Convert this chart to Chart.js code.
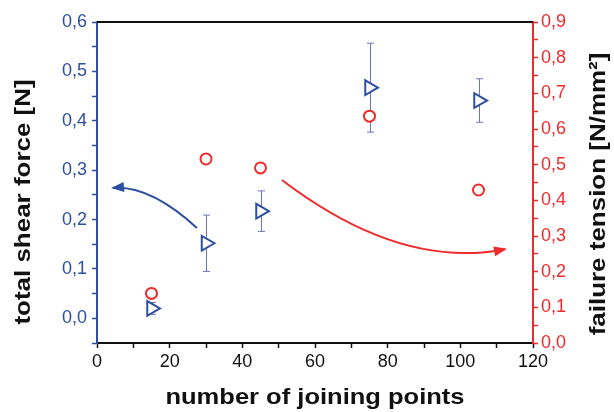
<!DOCTYPE html>
<html>
<head>
<meta charset="utf-8">
<script src="https://cdn.jsdelivr.net/npm/chart.js@4.4.1/dist/chart.umd.min.js"></script>
<style>
  html, body { margin: 0; padding: 0; background: #fff; }
  #wrap { width: 614px; height: 412px; }
</style>
</head>
<body>
<div id="wrap"><canvas id="chart"></canvas></div>
<script>
// values
const joiningPoints = [15, 30, 45, 75, 105];
const shearForce = [0.02, 0.152, 0.217, 0.467, 0.441];
const shearError = [0.012, 0.057, 0.041, 0.09, 0.044];
const failureTension = [0.139, 0.516, 0.491, 0.636, 0.429];

const xTitle = 'number of joining points';
const leftTitle = 'total shear force [N]';
const rightTitle = 'failure tension [N/mm²]';

// arrows: start, control, tip (x, left-axis units)
const blueArrow = [[27.5, 0.183], [14.6, 0.270], [4.4, 0.264]];
const redArrow = [[50.9, 0.280], [83.4, 0.098], [112.3, 0.140]];

const BLUE = '#2d4fa1';
const RED = '#ee2b2b';
const ERR = '#6d74bb';
const FONT = "'Liberation Sans', Arial, sans-serif";

const comma = (v) => {
  const r = Math.round(v * 100);
  if (r % 10 !== 0) return '';
  return (r / 100).toFixed(1).replace('.', ',');
};

function drawArrow(ctx, pts, color, sx, sy) {
  const p = pts.map(([a, b]) => [sx.getPixelForValue(a), sy.getPixelForValue(b)]);
  ctx.save();
  ctx.strokeStyle = color;
  ctx.fillStyle = color;
  ctx.lineWidth = 2;
  ctx.beginPath();
  ctx.moveTo(p[0][0], p[0][1]);
  ctx.quadraticCurveTo(p[1][0], p[1][1], p[2][0], p[2][1]);
  ctx.stroke();
  const ang = Math.atan2(p[2][1] - p[1][1], p[2][0] - p[1][0]);
  ctx.translate(p[2][0], p[2][1]);
  ctx.rotate(ang);
  ctx.beginPath();
  ctx.moveTo(2, 0);
  ctx.lineTo(-11, -5);
  ctx.lineTo(-11, 5);
  ctx.closePath();
  ctx.fill();
  ctx.restore();
}

function stretchedText(ctx, text, x, y, rot, sx) {
  ctx.save();
  ctx.translate(x, y);
  ctx.rotate(rot);
  ctx.scale(sx, 1);
  ctx.textAlign = 'center';
  ctx.textBaseline = 'alphabetic';
  ctx.fillText(text, 0, 0);
  ctx.restore();
}

const extras = {
  id: 'extras',
  beforeDatasetsDraw(chart) {
    const { ctx, scales } = chart;
    ctx.save();
    ctx.strokeStyle = ERR;
    ctx.lineWidth = 1;
    joiningPoints.forEach((xv, i) => {
      const x = Math.round(scales.x.getPixelForValue(xv)) + 0.5;
      const top = scales.y.getPixelForValue(shearForce[i] + shearError[i]);
      const bot = scales.y.getPixelForValue(shearForce[i] - shearError[i]);
      ctx.beginPath();
      ctx.moveTo(x, top); ctx.lineTo(x, bot);
      ctx.moveTo(x - 3.5, top); ctx.lineTo(x + 3.5, top);
      ctx.moveTo(x - 3.5, bot); ctx.lineTo(x + 3.5, bot);
      ctx.stroke();
    });
    ctx.restore();
  },
  afterDraw(chart) {
    const { ctx, scales, chartArea } = chart;
    // top frame line
    ctx.save();
    ctx.strokeStyle = '#111';
    ctx.lineWidth = 2;
    ctx.beginPath();
    ctx.moveTo(chartArea.left, chartArea.top);
    ctx.lineTo(chartArea.right, chartArea.top);
    ctx.stroke();
    ctx.restore();

    drawArrow(ctx, blueArrow, BLUE, scales.x, scales.y);
    drawArrow(ctx, redArrow, RED, scales.x, scales.y);

    ctx.save();
    ctx.font = 'bold 22px ' + FONT;
    ctx.fillStyle = '#111';
    stretchedText(ctx, xTitle, (chartArea.left + chartArea.right) / 2, 404, 0, 1.16);
    stretchedText(ctx, leftTitle, 30, 202, -Math.PI / 2, 1.18);
    stretchedText(ctx, rightTitle, 605, 194, -Math.PI / 2, 1.18);
    ctx.restore();
  }
};

new Chart(document.getElementById('chart'), {
  type: 'scatter',
  data: {
    datasets: [
      {
        label: 'failure tension',
        data: joiningPoints.map((x, i) => ({ x, y: failureTension[i] })),
        yAxisID: 'y2',
        pointStyle: 'circle',
        pointRadius: 5.5,
        borderColor: RED,
        backgroundColor: '#fff',
        borderWidth: 2
      },
      {
        label: 'total shear force',
        data: joiningPoints.map((x, i) => ({ x, y: shearForce[i] })),
        yAxisID: 'y',
        pointStyle: 'triangle',
        rotation: 90,
        pointRadius: 8.5,
        borderColor: BLUE,
        backgroundColor: '#fff',
        borderWidth: 2
      }
    ]
  },
  options: {
    responsive: true,
    maintainAspectRatio: false,
    animation: false,
    layout: { padding: { top: 22, left: 0, right: 0, bottom: 0 } },
    plugins: { legend: { display: false }, tooltip: { enabled: false } },
    scales: {
      x: {
        type: 'linear',
        position: 'bottom',
        min: 0,
        max: 120,
        afterFit: (s) => { s.height = 69; },
        ticks: {
          stepSize: 10,
          autoSkip: false,
          maxRotation: 0,
          padding: 3,
          color: '#111',
          font: { family: FONT, size: 18 },
          callback: (v) => (v % 20 === 0 ? String(v) : '')
        },
        grid: { drawOnChartArea: false, tickLength: 5, tickColor: '#111', tickWidth: 1.5 },
        border: { color: '#111', width: 2 }
      },
      y: {
        type: 'linear',
        position: 'left',
        min: -0.05,
        max: 0.6,
        afterFit: (s) => { s.width = 97; },
        ticks: {
          stepSize: 0.05,
          autoSkip: false,
          padding: 5,
          color: BLUE,
          font: { family: FONT, size: 18 },
          callback: comma
        },
        grid: { drawOnChartArea: false, tickLength: 5, tickColor: BLUE, tickWidth: 1.5 },
        border: { color: BLUE, width: 2 }
      },
      y2: {
        type: 'linear',
        position: 'right',
        min: 0,
        max: 0.9,
        afterFit: (s) => { s.width = 81; },
        ticks: {
          stepSize: 0.05,
          autoSkip: false,
          padding: 3,
          color: RED,
          font: { family: FONT, size: 18 },
          callback: comma
        },
        grid: { drawOnChartArea: false, tickLength: 5, tickColor: RED, tickWidth: 1.5 },
        border: { color: RED, width: 2 }
      }
    }
  },
  plugins: [extras]
});
</script>
</body>
</html>
